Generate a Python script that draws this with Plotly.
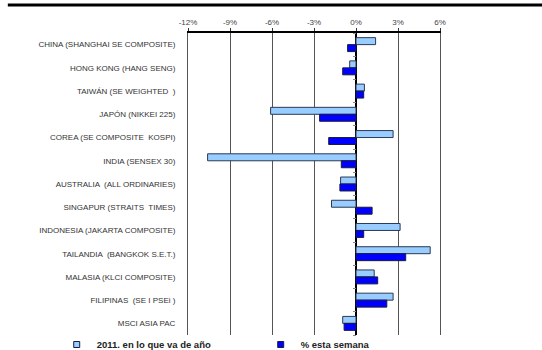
import plotly.graph_objects as go

categories = [
    "CHINA (SHANGHAI SE COMPOSITE)",
    "HONG KONG (HANG SENG)",
    "TAIWÁN (SE WEIGHTED  )",
    "JAPÓN (NIKKEI 225)",
    "COREA (SE COMPOSITE  KOSPI)",
    "INDIA (SENSEX 30)",
    "AUSTRALIA  (ALL ORDINARIES)",
    "SINGAPUR (STRAITS  TIMES)",
    "INDONESIA (JAKARTA COMPOSITE)",
    "TAILANDIA  (BANGKOK S.E.T.)",
    "MALASIA (KLCI COMPOSITE)",
    "FILIPINAS  (SE I PSEi )",
    "MSCI ASIA PAC",
]
ytd_2011 = [1.4, -0.45, 0.6, -6.1, 2.65, -10.6, -1.1, -1.75, 3.15, 5.3, 1.3, 2.65, -0.95]
this_week = [-0.6, -0.95, 0.55, -2.6, -1.95, -1.05, -1.15, 1.15, 0.55, 3.55, 1.55, 2.2, -0.85]
series_names = ["2011. en lo que va de año", "% esta semana"]
series_colors = ["#99CCFF", "#0000FF"]
tick_vals = [-12, -9, -6, -3, 0, 3, 6]
tick_text = ["-12%", "-9%", "-6%", "-3%", "0%", "3%", "6%"]
boundaries = [i - 0.5 for i in range(len(categories) + 1)]

FONT = "Liberation Sans, Arial, sans-serif"

fig = go.Figure()
for vals, name, col, lc in [(ytd_2011, series_names[0], series_colors[0], "#2a3a55"),
                            (this_week, series_names[1], series_colors[1], "#1a1a40")]:
    fig.add_trace(go.Bar(
        y=categories, x=vals, orientation="h", name=name, showlegend=False,
        legendgroup=name,
        marker=dict(color=col, line=dict(color=lc, width=1)),
    ))
# legend entries with small square markers
for name, col in zip(series_names, series_colors):
    fig.add_trace(go.Scatter(
        x=[None], y=[None], mode="markers", name=name, legendgroup=name,
        marker=dict(symbol="square", size=6, color=col,
                    line=dict(color="#1a1a40", width=1)),
    ))
# dummy trace for small boundary ticks on the zero axis
fig.add_trace(go.Scatter(x=[None], y=[None], yaxis="y2", showlegend=False,
                         hoverinfo="skip"))

fig.update_layout(
    width=542, height=350,
    margin=dict(l=188, r=102, t=33, b=15, autoexpand=False),
    paper_bgcolor="white", plot_bgcolor="white",
    barmode="group", bargap=0.4, bargroupgap=0,
    font=dict(family=FONT, size=8, color="#333333"),
    xaxis=dict(
        side="top", range=[-12, 6], tickvals=tick_vals, ticktext=tick_text,
        showgrid=True, gridcolor="#555555", gridwidth=1,
        zeroline=True, zerolinecolor="black", zerolinewidth=1.5,
        showline=True, linecolor="black", linewidth=1.5,
        ticks="outside", ticklen=3, tickcolor="#333333",
        tickfont=dict(size=8, color="#444444"),
        fixedrange=True,
    ),
    yaxis=dict(
        type="category", categoryorder="array", categoryarray=categories,
        autorange="reversed", showgrid=False, zeroline=False,
        showline=True, linecolor="#555555", linewidth=1, mirror=True,
        ticks="", ticklabelstandoff=10,
        tickfont=dict(size=8, color="#333333"),
    ),
    yaxis2=dict(
        overlaying="y", anchor="free", position=(0 - (-12)) / 18,
        range=[len(categories) - 0.5, -0.5], tickmode="array",
        tickvals=boundaries, showticklabels=False, ticks="outside",
        ticklen=3, tickcolor="#888888", showgrid=False, zeroline=False,
        showline=False,
    ),
    legend=dict(
        orientation="h", x=-0.521, xanchor="left", y=-0.0795, yanchor="bottom",
        font=dict(size=9.5, color="#222222", family=FONT, weight="bold"),
        entrywidth=159, entrywidthmode="pixels",
        itemwidth=30, tracegroupgap=0, bgcolor="rgba(0,0,0,0)",
    ),
    shapes=[dict(type="line", xref="paper", yref="paper",
                 x0=-0.715, x1=1.41, y0=1.093, y1=1.093,
                 line=dict(color="black", width=3))],
)

fig.write_html("out.html")
